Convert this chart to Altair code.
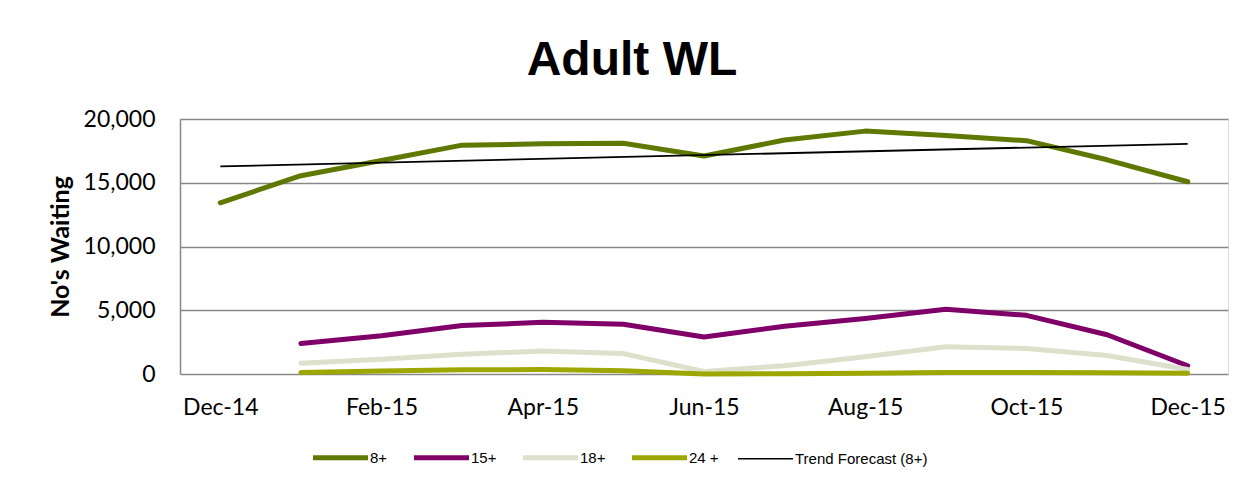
import json
import altair as alt
import pandas as pd

months = ["Dec-14", "Jan-15", "Feb-15", "Mar-15", "Apr-15", "May-15", "Jun-15",
          "Jul-15", "Aug-15", "Sep-15", "Oct-15", "Nov-15", "Dec-15"]
s8 = [13430, 15550, 16750, 17950, 18050, 18100, 17100, 18350, 19050, 18700, 18300, 16800, 15080]
s15 = [None, 2400, 3000, 3800, 4050, 3900, 2900, 3750, 4350, 5080, 4600, 3080, 650]
s18 = [None, 850, 1150, 1550, 1800, 1600, 200, 650, 1350, 2130, 2000, 1450, 350]
s24 = [None, 120, 230, 330, 350, 250, 0, 20, 60, 120, 110, 100, 60]

series_names = ["8+", "15+", "18+", "24 +", "Trend Forecast (8+)"]
series_colors = ["#5F7800", "#800069", "#DDE0CB", "#9EA700", "#000000"]

rows = []
for name, vals in zip(series_names[:4], [s8, s15, s18, s24]):
    for i, v in enumerate(vals):
        if v is not None:
            rows.append({"idx": i, "month": months[i], "series": name, "value": v})
df = pd.DataFrame(rows)

label_expr = json.dumps(months) + "[datum.value]"

color = alt.Color(
    "series:N",
    scale=alt.Scale(domain=series_names, range=series_colors),
    legend=alt.Legend(
        title=None,
        orient="none",
        direction="horizontal",
        legendX=153,
        legendY=331,
        symbolType="stroke",
        symbolSize=3025,
        symbolStrokeWidth={"expr": "datum.value == 'Trend Forecast (8+)' ? 1.5 : 5"},
        labelFont="Liberation Sans",
        labelFontSize=15,
        labelColor="#000000",
        labelOffset=22,
        columnPadding=16,
    ),
)

x = alt.X(
    "idx:Q",
    scale=alt.Scale(domain=[-0.5, 12.5], nice=False, zero=False),
    axis=alt.Axis(
        title=None,
        values=[0, 2, 4, 6, 8, 10, 12],
        labelExpr=label_expr,
        grid=False,
        ticks=False,
        domain=False,
        labelFont="Lato",
        labelFontSize=23,
        labelColor="#000000",
        labelPadding=22,
    ),
)
y = alt.Y(
    "value:Q",
    scale=alt.Scale(domain=[0, 20000], nice=False),
    axis=alt.Axis(
        title="No's Waiting",
        values=[0, 5000, 10000, 15000, 20000],
        format=",.0f",
        grid=True,
        gridColor="#888888",
        gridWidth=1.5,
        domainColor="#888888",
        domainWidth=1.5,
        ticks=False,
        labelFont="Lato",
        labelFontSize=23,
        labelColor="#000000",
        labelPadding=25,
        titleFont="Lato",
        titleFontSize=25,
        titleFontWeight="bold",
        titleColor="#000000",
        titlePadding=10,
    ),
)

lines = alt.Chart(df).mark_line(strokeWidth=5, strokeCap="round", strokeJoin="round").encode(
    x=x, y=y, color=color, detail="series:N"
)

trend = (
    alt.Chart(df)
    .transform_filter(alt.datum.series == "8+")
    .transform_regression("idx", "value", method="linear")
    .transform_calculate(series="'Trend Forecast (8+)'")
    .mark_line(strokeWidth=1.8)
    .encode(x=x, y=y, color=color)
)

chart = (
    alt.layer(lines, trend)
    .properties(
        width=1048,
        height=255,
        title=alt.TitleParams(
            "Adult WL",
            font="Liberation Sans",
            fontSize=48,
            fontWeight="bold",
            color="#000000",
            anchor="middle",
            offset=23,
            dx=-72,
        ),
        autosize=alt.AutoSizeParams(type="none"),
        padding={"left": 172, "top": 111, "right": 9, "bottom": 96},
    )
    .configure_view(stroke=None)
    .configure(background="#ffffff")
)

chart.save("out.html", embed_options={"renderer": "svg", "actions": False})
